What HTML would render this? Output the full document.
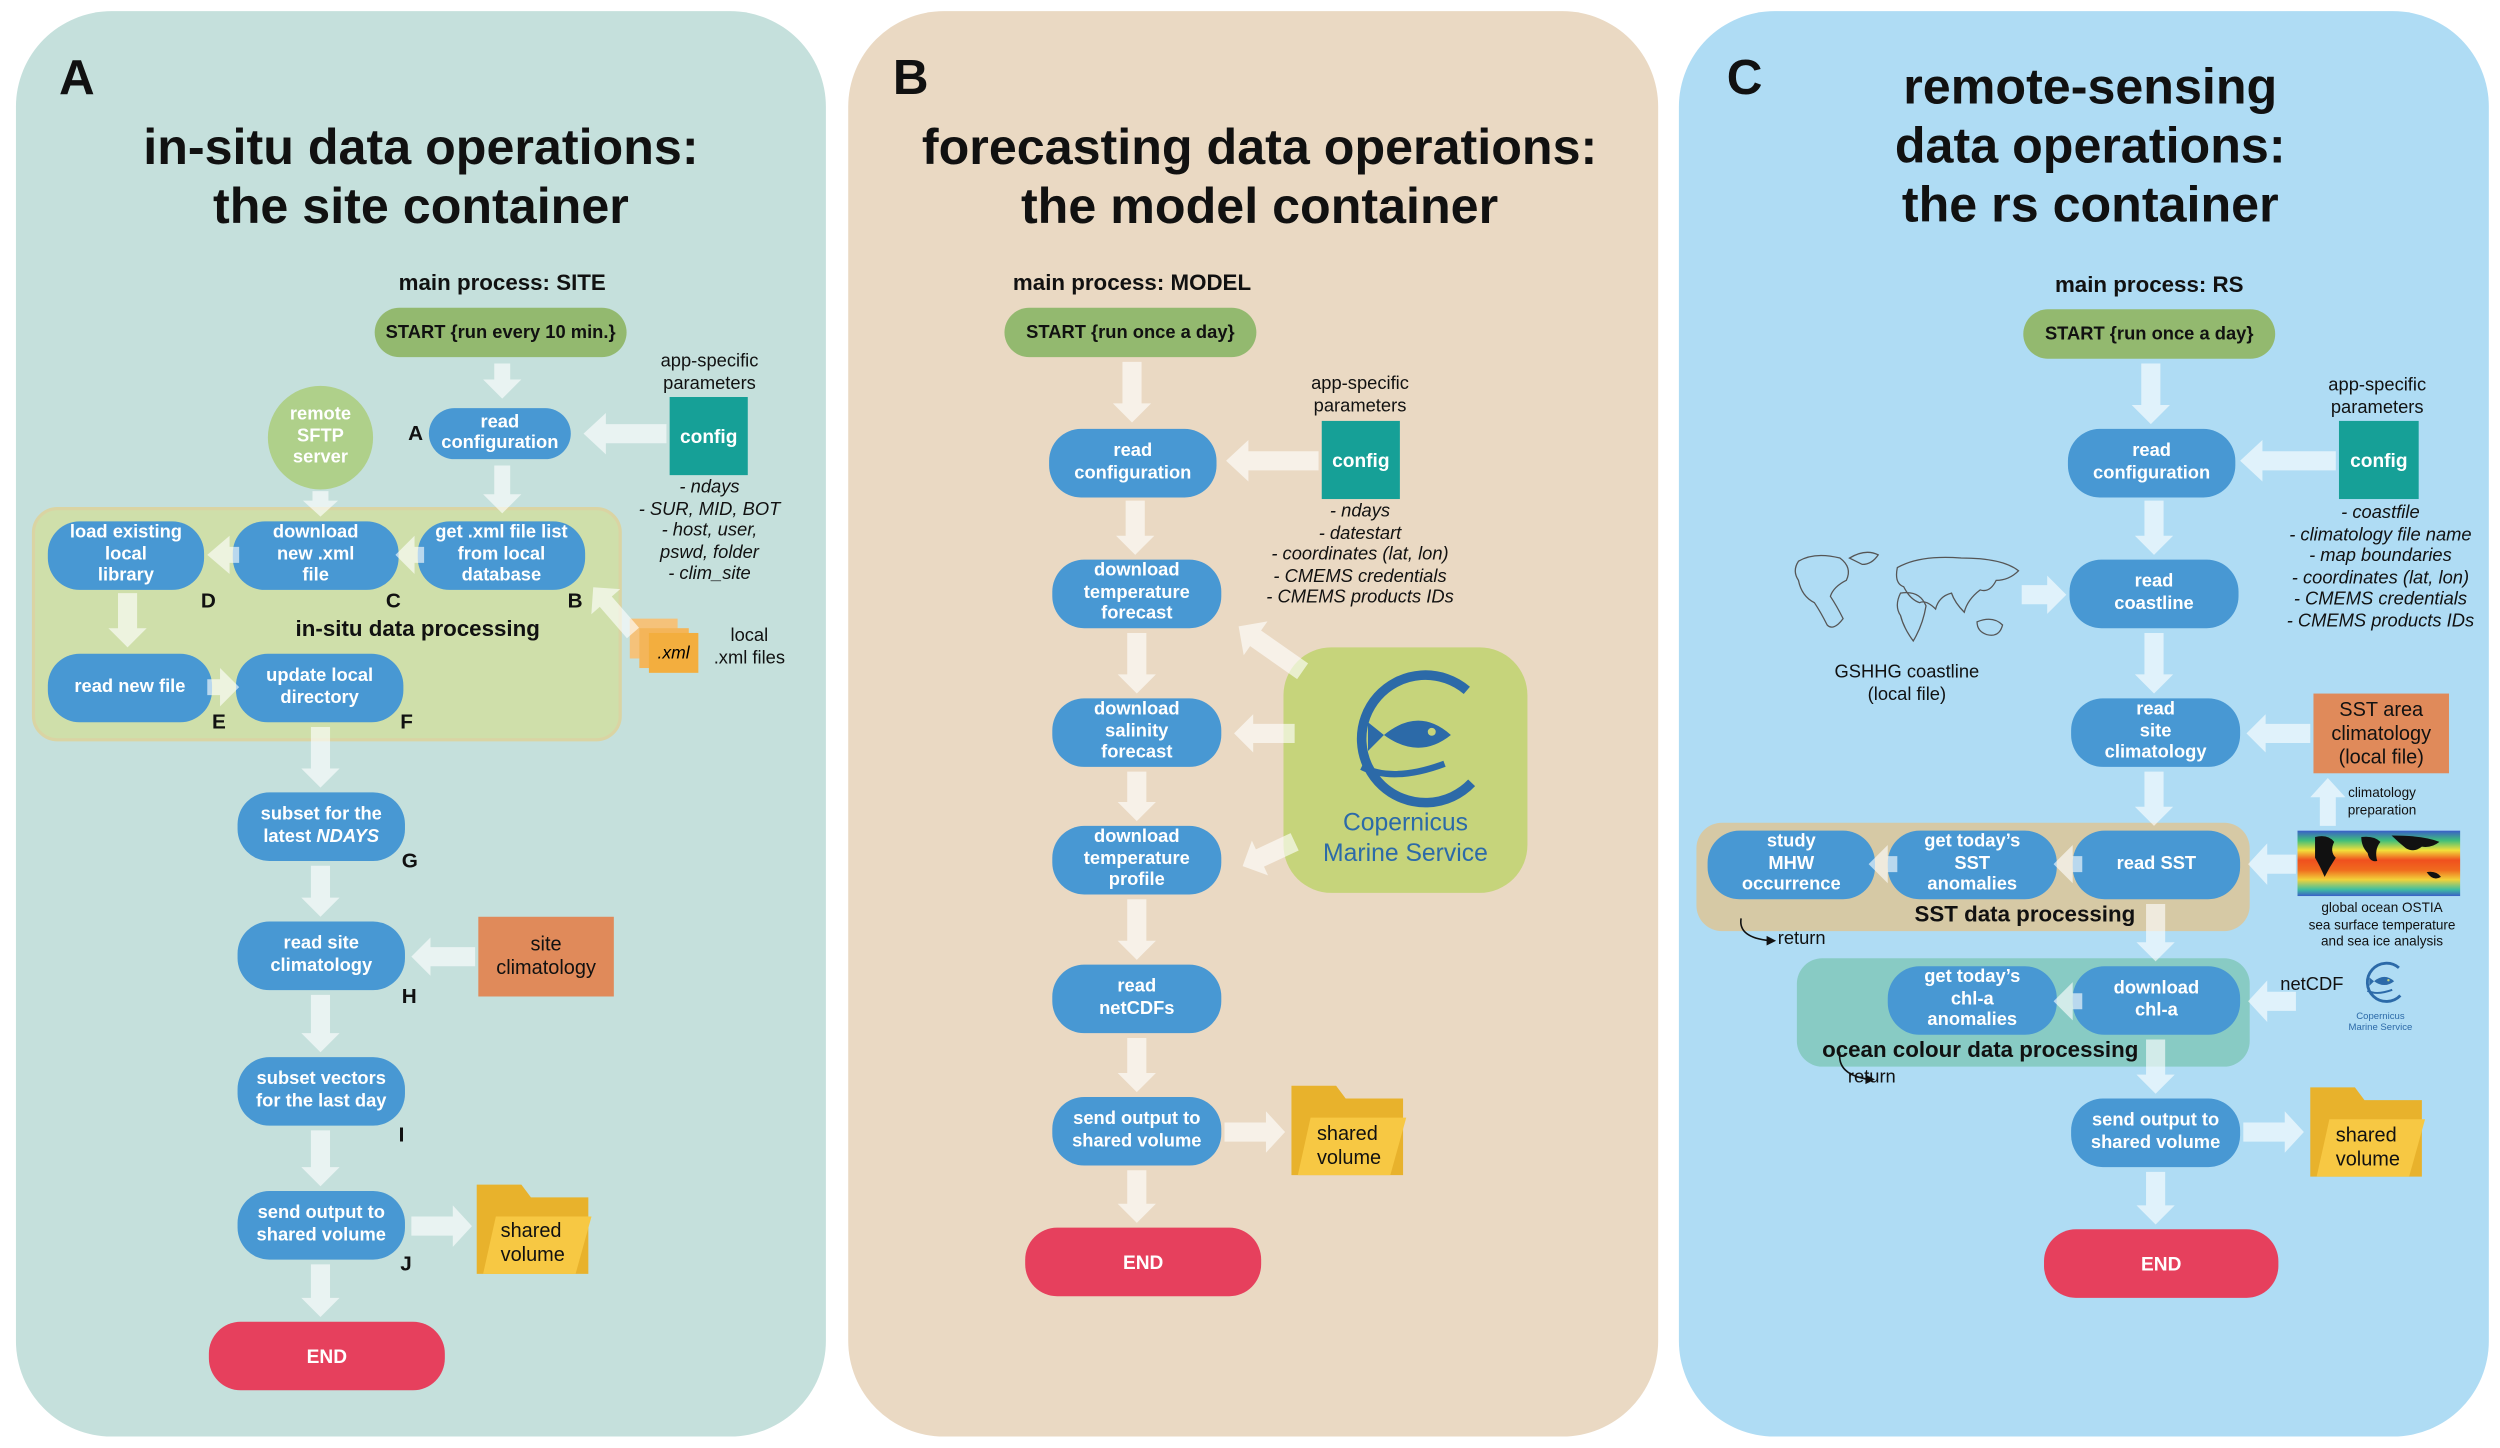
<!DOCTYPE html>
<html><head><meta charset="utf-8"><style>
html,body{margin:0;padding:0;background:#fff;}
body{width:2500px;height:1448px;overflow:hidden;position:relative;}
#w{position:absolute;left:0;top:0;width:1568px;height:908px;transform:scale(1.59439);transform-origin:0 0;font-family:"Liberation Sans",sans-serif;}
.p{position:absolute;top:7px;height:894px;width:508px;border-radius:60px;}
.a{position:absolute;}
.n{position:absolute;background:#4898d3;color:#fff;border-radius:20px;display:flex;align-items:center;justify-content:center;text-align:center;font-weight:bold;font-size:11.5px;line-height:13.5px;}
.t{position:absolute;text-align:center;font-weight:bold;font-size:31.5px;line-height:37px;color:#111;}
.big{position:absolute;font-weight:bold;font-size:31px;color:#111;}
.mp{position:absolute;font-weight:bold;font-size:14px;color:#111;transform:translateX(-50%);white-space:nowrap;}
.st{position:absolute;background:#93b96f;border-radius:16px;display:flex;align-items:center;justify-content:center;font-weight:bold;font-size:11.5px;color:#111;}
.end{position:absolute;background:#e6405d;border-radius:20px;display:flex;align-items:center;justify-content:center;font-weight:bold;font-size:12px;color:#fff;}
.cfg{position:absolute;background:#16a097;color:#fff;font-size:12px;font-weight:bold;display:flex;align-items:center;justify-content:center;}
.sm{position:absolute;font-size:11.5px;line-height:13.5px;text-align:center;color:#111;transform:translateX(-50%);white-space:nowrap;}
.it{font-style:italic;}
.L{position:absolute;font-weight:bold;font-size:13px;color:#111;}
.box{position:absolute;border-radius:16px;}
.or{position:absolute;background:#e08a5a;color:#111;font-size:12.5px;line-height:15px;display:flex;align-items:center;justify-content:center;text-align:center;}
.lab{position:absolute;font-weight:bold;font-size:14px;color:#111;transform:translateX(-50%);white-space:nowrap;}
</style></head><body><div id="w">

<div class="p" style="left:10px;background:#c5e0dc;"></div>
<div class="p" style="left:532px;background:#ead9c3;"></div>
<div class="p" style="left:1053px;background:#afdcf4;"></div>

<!-- Panel A -->
<div class="big" style="left:37px;top:31px;">A</div>
<div class="t" style="left:10px;width:508px;top:74px;">in-situ data operations:<br>the site container</div>
<div class="mp" style="left:315px;top:169px;">main process: SITE</div>
<div class="st" style="left:235px;top:193px;width:158px;height:31px;">START {run every 10 min.}</div>
<div class="n" style="left:269px;top:256px;width:89px;height:32px;">read<br>configuration</div>
<div class="L" style="left:256px;top:264px;">A</div>
<div class="sm" style="left:445px;top:221px;">app-specific<br>parameters</div>
<div class="cfg" style="left:420px;top:249px;width:49px;height:49px;">config</div>
<div class="sm it" style="left:445px;top:300px;">- ndays<br>- SUR, MID, BOT<br>- host, user,<br>pswd, folder<br>- clim_site</div>
<div class="a" style="left:168px;top:242px;width:66px;height:65px;border-radius:50%;background:#afd08a;color:#fff;font-weight:bold;font-size:11.5px;line-height:13.5px;display:flex;align-items:center;justify-content:center;text-align:center;">remote<br>SFTP<br>server</div>
<div class="box" style="left:20px;top:318px;width:366px;height:143px;background:#cfdfaa;border:2px solid #dad4a3;"></div>
<div class="n" style="left:30px;top:327px;width:98px;height:43px;">load existing<br>local<br>library</div>
<div class="n" style="left:146px;top:327px;width:104px;height:43px;">download<br>new .xml<br>file</div>
<div class="n" style="left:262px;top:327px;width:105px;height:43px;">get .xml file list<br>from local<br>database</div>
<div class="L" style="left:126px;top:369px;">D</div>
<div class="L" style="left:242px;top:369px;">C</div>
<div class="L" style="left:356px;top:369px;">B</div>
<div class="lab" style="left:262px;top:386px;">in-situ data processing</div>
<div class="n" style="left:30px;top:410px;width:103px;height:43px;">read new file</div>
<div class="n" style="left:148px;top:410px;width:105px;height:43px;">update local<br>directory</div>
<div class="L" style="left:133px;top:445px;">E</div>
<div class="L" style="left:251px;top:445px;">F</div>
<div class="a" style="left:395px;top:388px;width:30px;height:25px;background:#f5c27a;"></div>
<div class="a" style="left:401px;top:394px;width:31px;height:25px;background:#f4b559;"></div>
<div class="a" style="left:407px;top:397px;width:31px;height:25px;background:#f3ae3e;font-size:11px;font-style:italic;display:flex;align-items:center;justify-content:center;">.xml</div>
<div class="sm" style="left:470px;top:393px;">local<br>.xml files</div>
<div class="n" style="left:149px;top:497px;width:105px;height:43px;"><span>subset for the<br>latest <i>NDAYS</i></span></div>
<div class="L" style="left:252px;top:532px;">G</div>
<div class="n" style="left:149px;top:578px;width:105px;height:43px;">read site<br>climatology</div>
<div class="L" style="left:252px;top:617px;">H</div>
<div class="or" style="left:300px;top:575px;width:85px;height:50px;">site<br>climatology</div>
<div class="n" style="left:149px;top:663px;width:105px;height:43px;">subset vectors<br>for the last day</div>
<div class="L" style="left:250px;top:704px;">I</div>
<div class="n" style="left:149px;top:747px;width:105px;height:43px;">send output to<br>shared volume</div>
<div class="L" style="left:251px;top:785px;">J</div>
<div class="end" style="left:131px;top:829px;width:148px;height:43px;">END</div>

<!-- Panel B -->
<div class="big" style="left:560px;top:31px;">B</div>
<div class="t" style="left:532px;width:516px;top:74px;">forecasting data operations:<br>the model container</div>
<div class="mp" style="left:710px;top:169px;">main process: MODEL</div>
<div class="st" style="left:630px;top:193px;width:158px;height:31px;">START {run once a day}</div>
<div class="n" style="left:658px;top:269px;width:105px;height:43px;">read<br>configuration</div>
<div class="sm" style="left:853px;top:235px;">app-specific<br>parameters</div>
<div class="cfg" style="left:829px;top:264px;width:49px;height:49px;">config</div>
<div class="sm it" style="left:853px;top:315px;">- ndays<br>- datestart<br>- coordinates (lat, lon)<br>- CMEMS credentials<br>- CMEMS products IDs</div>
<div class="n" style="left:660px;top:351px;width:106px;height:43px;">download<br>temperature<br>forecast</div>
<div class="n" style="left:660px;top:438px;width:106px;height:43px;">download<br>salinity<br>forecast</div>
<div class="n" style="left:660px;top:518px;width:106px;height:43px;">download<br>temperature<br>profile</div>
<div class="n" style="left:660px;top:605px;width:106px;height:43px;">read<br>netCDFs</div>
<div class="n" style="left:660px;top:688px;width:106px;height:43px;">send output to<br>shared volume</div>
<div class="end" style="left:643px;top:770px;width:148px;height:43px;">END</div>
<div class="box" style="left:805px;top:406px;width:153px;height:154px;background:#c6d47b;border-radius:30px;"></div>
<div class="a" style="left:805px;top:507px;width:153px;text-align:center;color:#2c6aa8;font-size:15.5px;line-height:19px;">Copernicus<br>Marine Service</div>

<!-- Panel C -->
<div class="big" style="left:1083px;top:31px;">C</div>
<div class="t" style="left:1053px;width:516px;top:36px;">remote-sensing<br>data operations:<br>the rs container</div>
<div class="mp" style="left:1348px;top:170px;">main process: RS</div>
<div class="st" style="left:1269px;top:194px;width:158px;height:31px;">START {run once a day}</div>
<div class="n" style="left:1297px;top:269px;width:105px;height:43px;">read<br>configuration</div>
<div class="sm" style="left:1491px;top:236px;">app-specific<br>parameters</div>
<div class="cfg" style="left:1467px;top:264px;width:50px;height:49px;">config</div>
<div class="sm it" style="left:1493px;top:316px;">- coastfile<br>- climatology file name<br>- map boundaries<br>- coordinates (lat, lon)<br>- CMEMS credentials<br>- CMEMS products IDs</div>
<div class="n" style="left:1298px;top:351px;width:106px;height:43px;">read<br>coastline</div>
<div class="sm" style="left:1196px;top:416px;">GSHHG coastline<br>(local file)</div>
<div class="n" style="left:1299px;top:438px;width:106px;height:43px;">read<br>site<br>climatology</div>
<div class="or" style="left:1451px;top:435px;width:85px;height:50px;">SST area<br>climatology<br>(local file)</div>
<div class="sm" style="left:1494px;top:492px;font-size:8.5px;line-height:11px;">climatology<br>preparation</div>
<div class="box" style="left:1064px;top:516px;width:347px;height:68px;background:#d6c9a5;"></div>
<div class="n" style="left:1071px;top:521px;width:105px;height:43px;">study<br>MHW<br>occurrence</div>
<div class="n" style="left:1184px;top:521px;width:106px;height:43px;">get today’s<br>SST<br>anomalies</div>
<div class="n" style="left:1300px;top:521px;width:105px;height:43px;">read SST</div>
<div class="lab" style="left:1270px;top:565px;">SST data processing</div>
<div class="sm" style="left:1494px;top:564px;font-size:8.5px;line-height:10.5px;">global ocean OSTIA<br>sea surface temperature<br>and sea ice analysis</div>
<div class="sm" style="left:1130px;top:583px;">return</div>
<div class="box" style="left:1127px;top:601px;width:284px;height:68px;background:#88cbc4;"></div>
<div class="n" style="left:1184px;top:606px;width:106px;height:43px;">get today’s<br>chl-a<br>anomalies</div>
<div class="n" style="left:1300px;top:606px;width:105px;height:43px;">download<br>chl-a</div>
<div class="lab" style="left:1242px;top:650px;">ocean colour data processing</div>
<div class="sm" style="left:1174px;top:670px;">return</div>
<div class="sm" style="left:1450px;top:612px;">netCDF</div>
<div class="sm" style="left:1493px;top:635px;font-size:6px;line-height:7px;color:#2c6aa8;">Copernicus<br>Marine Service</div>
<div class="n" style="left:1299px;top:689px;width:106px;height:43px;">send output to<br>shared volume</div>
<div class="end" style="left:1282px;top:771px;width:147px;height:43px;">END</div>

<svg class="a" style="left:0;top:0;" width="1568" height="908" viewBox="0 0 1568 908">
<defs>
<linearGradient id="hm" x1="0" y1="0" x2="0" y2="1">
<stop offset="0" stop-color="#3a5fc8"/><stop offset=".15" stop-color="#3fbf7a"/><stop offset=".3" stop-color="#f2e03a"/><stop offset=".45" stop-color="#f0501e"/><stop offset=".6" stop-color="#f06a1e"/><stop offset=".75" stop-color="#f2d23a"/><stop offset=".9" stop-color="#3fbfa0"/><stop offset="1" stop-color="#3a5fc8"/>
</linearGradient>
<g id="fold"><path d="M0,0 h28 l6,8 h36 v48 h-70z" fill="#e8b22c"/><path d="M12,20 h60 l-10,36 h-58z" fill="#f7c843"/></g>
<g id="cop"><path d="M42,-30 A40,40 0 1,0 45,28" fill="none" stroke="#2c6aa8" stroke-width="6"/><path d="M-10,-2 q22,-18 42,0 q-20,16 -42,0z M-10,-2 l-10,-8 v18z" fill="#2c6aa8"/><path d="M-24,18 q20,10 52,-2" fill="none" stroke="#2c6aa8" stroke-width="4"/><circle cx="20" cy="-4" r="2.5" fill="#c6d47b"/></g>
</defs>
<g fill="#fff" fill-opacity="0.62">
<!-- A -->
<path transform="translate(315,228) rotate(90)" d="M0,-5 L10,-5 L10,-12 L22,0 L10,12 L10,5 L0,5Z"/>
<path transform="translate(418,272) rotate(180)" d="M0,-6 L38,-6 L38,-13 L52,0 L38,13 L38,6 L0,6Z"/>
<path transform="translate(315,292) rotate(90)" d="M0,-5 L18,-5 L18,-12 L30,0 L18,12 L18,5 L0,5Z"/>
<path transform="translate(201,308) rotate(90)" d="M0,-5 L6,-5 L6,-11 L16,0 L6,11 L6,5 L0,5Z"/>
<path transform="translate(266,348) rotate(180)" d="M0,-5 L6,-5 L6,-12 L18,0 L6,12 L6,5 L0,5Z"/>
<path transform="translate(150,348) rotate(180)" d="M0,-5 L6,-5 L6,-12 L20,0 L6,12 L6,5 L0,5Z"/>
<path transform="translate(80,372) rotate(90)" d="M0,-6 L22,-6 L22,-12 L34,0 L22,12 L22,6 L0,6Z"/>
<path transform="translate(130,431)" d="M0,-5 L8,-5 L8,-12 L20,0 L8,12 L8,5 L0,5Z"/>
<path transform="translate(397,397) rotate(229)" d="M0,-5 L26,-5 L26,-12 L38,0 L26,12 L26,5 L0,5Z"/>
<path transform="translate(201,456) rotate(90)" d="M0,-6 L26,-6 L26,-12 L38,0 L26,12 L26,6 L0,6Z"/>
<path transform="translate(201,543) rotate(90)" d="M0,-6 L20,-6 L20,-12 L32,0 L20,12 L20,6 L0,6Z"/>
<path transform="translate(298,600) rotate(180)" d="M0,-6 L28,-6 L28,-12 L40,0 L28,12 L28,6 L0,6Z"/>
<path transform="translate(201,624) rotate(90)" d="M0,-6 L24,-6 L24,-12 L36,0 L24,12 L24,6 L0,6Z"/>
<path transform="translate(201,709) rotate(90)" d="M0,-6 L23,-6 L23,-12 L35,0 L23,12 L23,6 L0,6Z"/>
<path transform="translate(258,769)" d="M0,-6 L26,-6 L26,-13 L38,0 L26,13 L26,6 L0,6Z"/>
<path transform="translate(201,793) rotate(90)" d="M0,-6 L21,-6 L21,-12 L33,0 L21,12 L21,6 L0,6Z"/>
<!-- B -->
<path transform="translate(710,227) rotate(90)" d="M0,-6 L26,-6 L26,-12 L38,0 L26,12 L26,6 L0,6Z"/>
<path transform="translate(827,289) rotate(180)" d="M0,-6 L44,-6 L44,-13 L58,0 L44,13 L44,6 L0,6Z"/>
<path transform="translate(712,314) rotate(90)" d="M0,-6 L22,-6 L22,-12 L34,0 L22,12 L22,6 L0,6Z"/>
<path transform="translate(713,397) rotate(90)" d="M0,-6 L26,-6 L26,-12 L38,0 L26,12 L26,6 L0,6Z"/>
<path transform="translate(713,484) rotate(90)" d="M0,-6 L19,-6 L19,-12 L31,0 L19,12 L19,6 L0,6Z"/>
<path transform="translate(713,564) rotate(90)" d="M0,-6 L26,-6 L26,-12 L38,0 L26,12 L26,6 L0,6Z"/>
<path transform="translate(713,651) rotate(90)" d="M0,-6 L22,-6 L22,-12 L34,0 L22,12 L22,6 L0,6Z"/>
<path transform="translate(768,710)" d="M0,-6 L26,-6 L26,-13 L38,0 L26,13 L26,6 L0,6Z"/>
<path transform="translate(713,734) rotate(90)" d="M0,-6 L21,-6 L21,-12 L33,0 L21,12 L21,6 L0,6Z"/>
<path transform="translate(817,421) rotate(215)" d="M0,-6 L36,-6 L36,-13 L49,0 L36,13 L36,6 L0,6Z"/>
<path transform="translate(812,460) rotate(180)" d="M0,-6 L26,-6 L26,-12 L38,0 L26,12 L26,6 L0,6Z"/>
<path transform="translate(812,528) rotate(155)" d="M0,-6 L24,-6 L24,-12 L36,0 L24,12 L24,6 L0,6Z"/>
<!-- C -->
<path transform="translate(1349,228) rotate(90)" d="M0,-6 L26,-6 L26,-12 L38,0 L26,12 L26,6 L0,6Z"/>
<path transform="translate(1465,289) rotate(180)" d="M0,-6 L46,-6 L46,-13 L60,0 L46,13 L46,6 L0,6Z"/>
<path transform="translate(1351,314) rotate(90)" d="M0,-6 L22,-6 L22,-12 L34,0 L22,12 L22,6 L0,6Z"/>
<path transform="translate(1268,373)" d="M0,-6 L16,-6 L16,-12 L28,0 L16,12 L16,6 L0,6Z"/>
<path transform="translate(1351,397) rotate(90)" d="M0,-6 L26,-6 L26,-12 L38,0 L26,12 L26,6 L0,6Z"/>
<path transform="translate(1449,460) rotate(180)" d="M0,-6 L28,-6 L28,-12 L40,0 L28,12 L28,6 L0,6Z"/>
<path transform="translate(1351,484) rotate(90)" d="M0,-6 L22,-6 L22,-12 L34,0 L22,12 L22,6 L0,6Z"/>
<path transform="translate(1460,518) rotate(-90)" d="M0,-5 L18,-5 L18,-11 L30,0 L18,11 L18,5 L0,5Z"/>
<path transform="translate(1440,542) rotate(180)" d="M0,-6 L18,-6 L18,-13 L30,0 L18,13 L18,6 L0,6Z"/>
<path transform="translate(1306,542) rotate(180)" d="M0,-5 L6,-5 L6,-12 L18,0 L6,12 L6,5 L0,5Z"/>
<path transform="translate(1190,542) rotate(180)" d="M0,-5 L6,-5 L6,-12 L18,0 L6,12 L6,5 L0,5Z"/>
<path transform="translate(1352,567) rotate(90)" d="M0,-6 L24,-6 L24,-12 L36,0 L24,12 L24,6 L0,6Z"/>
<path transform="translate(1440,628) rotate(180)" d="M0,-6 L18,-6 L18,-13 L30,0 L18,13 L18,6 L0,6Z"/>
<path transform="translate(1306,628) rotate(180)" d="M0,-5 L6,-5 L6,-12 L18,0 L6,12 L6,5 L0,5Z"/>
<path transform="translate(1352,652) rotate(90)" d="M0,-6 L22,-6 L22,-12 L34,0 L22,12 L22,6 L0,6Z"/>
<path transform="translate(1407,710)" d="M0,-6 L26,-6 L26,-13 L38,0 L26,13 L26,6 L0,6Z"/>
<path transform="translate(1352,735) rotate(90)" d="M0,-6 L21,-6 L21,-12 L33,0 L21,12 L21,6 L0,6Z"/>
</g>
<use href="#fold" transform="translate(299,743)"/>
<use href="#fold" transform="translate(810,681)"/>
<use href="#fold" transform="translate(1449,682)"/>
<g font-family="Liberation Sans, sans-serif" font-size="12.5" fill="#111">
<text x="314" y="776">shared</text><text x="314" y="791">volume</text>
<text x="826" y="715">shared</text><text x="826" y="730">volume</text>
<text x="1465" y="716">shared</text><text x="1465" y="731">volume</text>
</g>
<use href="#cop" transform="translate(878,463)"/>
<use href="#cop" transform="translate(1492,616) scale(0.3)"/>
<rect x="1441" y="521" width="102" height="41" fill="url(#hm)"/>
<g fill="#111">
<path d="M1452,525 q8,-2 12,3 q-3,6 1,10 q-4,6 -7,12 q-3,-7 -6,-12 z"/>
<path d="M1481,525 q8,-1 12,3 q-4,5 -2,12 q-5,1 -6,-5 q-4,-4 -4,-10z"/>
<path d="M1500,524 q20,0 30,4 q-5,4 -11,3 q-5,4 -10,1 q-5,-4 -9,-8z"/>
<path d="M1522,547 q6,-1 9,3 q-5,3 -9,-3z"/>
</g>
<g fill="none" stroke="#555" stroke-width="0.8">
<path d="M1128,352 q10,-6 26,-2 q8,6 4,14 q-8,4 -10,10 q4,6 8,14 q-6,8 -10,4 q-4,-8 -8,-14 q-8,-4 -10,-14 q-4,-6 0,-12z"/>
<path d="M1160,350 q10,-6 18,-2 q-4,6 -10,6z"/>
<path d="M1190,356 q14,-8 40,-6 q26,0 36,8 q-6,6 -14,6 q-4,8 -10,6 q-8,6 -10,14 q-6,-6 -8,-12 q-8,2 -10,10 q-6,-6 -10,-4 q-6,-2 -10,-10 q-6,-2 -4,-12z"/>
<path d="M1192,372 q12,-2 16,8 q-2,12 -8,22 q-6,-8 -8,-16 q-4,-6 0,-14z"/>
<path d="M1240,390 q10,-4 16,2 q-2,8 -10,6 q-6,-2 -6,-8z"/>
</g>
<g fill="none" stroke="#111" stroke-width="1">
<path d="M1092,576 q-2,12 18,14"/><path d="M1154,660 q-2,14 18,17"/>
</g>
<g fill="#111"><path d="M1114,590 l-6,-3 v6z"/><path d="M1176,677 l-6,-3 v6z"/></g>
</svg>
</div></body></html>
